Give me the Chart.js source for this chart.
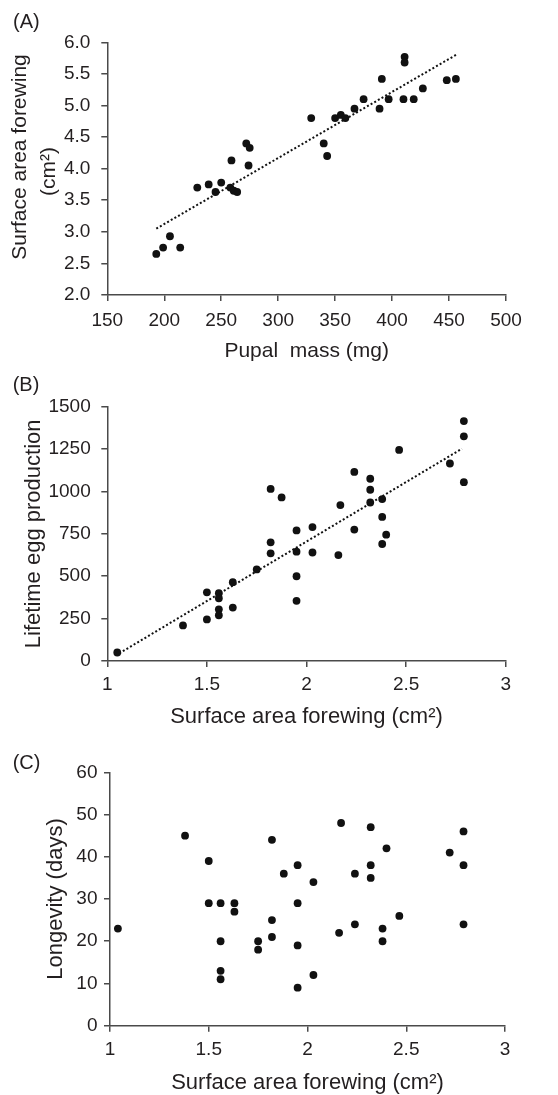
<!DOCTYPE html>
<html>
<head>
<meta charset="utf-8">
<script src="https://cdn.jsdelivr.net/npm/chart.js@4.4.1/dist/chart.umd.min.js"></script>
<style>
  html, body { margin: 0; padding: 0; background: #fff; }
  #wrap { position: relative; width: 558px; height: 1095px; }
  #wrap canvas { position: absolute; left: 0; top: 0; }
</style>
</head>
<body>
<div id="wrap">
  <canvas id="chartA" width="558" height="1095"></canvas>
  <canvas id="chartB" width="558" height="1095"></canvas>
  <canvas id="chartC" width="558" height="1095"></canvas>
</div>
<script>
// (A) pupal mass vs surface area
const aMass = [193, 199, 205, 214, 229, 239, 245, 250, 258, 259, 261, 264, 272, 274, 275, 329, 340, 343, 350, 355, 359, 367, 375, 389, 391, 397, 410, 411, 411, 419, 427, 448, 456];
const aArea = [2.65, 2.75, 2.93, 2.75, 3.70, 3.75, 3.63, 3.78, 3.70, 4.13, 3.65, 3.63, 4.40, 4.05, 4.33, 4.80, 4.40, 4.20, 4.80, 4.85, 4.80, 4.95, 5.10, 4.95, 5.42, 5.10, 5.10, 5.77, 5.68, 5.10, 5.27, 5.40, 5.42];
const aTrendX = [193, 457];
const aTrendY = [3.05, 5.81];
const aYTicks = ['2.0', '2.5', '3.0', '3.5', '4.0', '4.5', '5.0', '5.5', '6.0'];

// (B) surface area vs lifetime eggs
const bArea = [1.05, 1.38, 1.50, 1.50, 1.56, 1.56, 1.56, 1.56, 1.63, 1.63, 1.75, 1.82, 1.82, 1.82, 1.875, 1.95, 1.95, 1.95, 1.95, 2.03, 2.03, 2.16, 2.17, 2.24, 2.24, 2.32, 2.32, 2.32, 2.38, 2.38, 2.38, 2.40, 2.465, 2.72, 2.79, 2.79, 2.79];
const bEggs = [50, 210, 405, 245, 400, 370, 305, 270, 465, 315, 540, 1015, 700, 635, 965, 770, 645, 500, 355, 790, 640, 625, 920, 1115, 775, 1075, 1010, 935, 955, 850, 690, 745, 1245, 1165, 1415, 1325, 1055];
const bTrendX = [1.06, 2.78];
const bTrendY = [45, 1252];

// (C) surface area vs longevity
const cArea = [1.04, 1.38, 1.50, 1.50, 1.56, 1.56, 1.56, 1.56, 1.63, 1.63, 1.75, 1.75, 1.82, 1.82, 1.82, 1.88, 1.95, 1.95, 1.95, 1.95, 2.03, 2.03, 2.16, 2.17, 2.24, 2.24, 2.32, 2.32, 2.32, 2.38, 2.38, 2.40, 2.465, 2.72, 2.79, 2.79, 2.79];
const cDays = [23, 45, 39, 29, 29, 20, 13, 11, 29, 27, 20, 18, 44, 25, 21, 36, 38, 29, 19, 9, 34, 12, 22, 48, 36, 24, 47, 38, 35, 23, 20, 42, 26, 41, 46, 38, 24];

// shared x tick labels for B and C
const wingTicks = ['1', '1.5', '2', '2.5', '3'];

const textColor = '#231f20';
const axisColor = '#4a4a4a';
const dotColor = '#111';
const fontFamily = '"Liberation Sans", Arial, Helvetica, sans-serif';

Chart.defaults.font.family = fontFamily;
Chart.defaults.color = textColor;
Chart.defaults.animation = false;

const toPts = (xs, ys) => xs.map((x, i) => ({ x: x, y: ys[i] }));

const panelLabel = {
  id: 'panelLabel',
  afterDraw(chart, args, opts) {
    const ctx = chart.ctx;
    ctx.save();
    ctx.font = '20px ' + fontFamily;
    ctx.fillStyle = textColor;
    ctx.textBaseline = 'alphabetic';
    ctx.textAlign = 'left';
    ctx.fillText(opts.text, opts.x, opts.y);
    ctx.restore();
  }
};

function axisLook() {
  return {
    grid: { display: true, drawOnChartArea: false, drawTicks: true, tickLength: 6, color: axisColor, lineWidth: 1.5 },
    border: { display: true, color: axisColor, width: 1.5 }
  };
}

function makePanel(id, p) {
  const datasets = [{
    data: toPts(p.xs, p.ys),
    backgroundColor: dotColor,
    borderWidth: 0,
    pointRadius: 3.9,
    pointHoverRadius: 3.9
  }];
  if (p.trendX) {
    datasets.push({
      data: toPts(p.trendX, p.trendY),
      showLine: true,
      pointRadius: 0,
      borderColor: dotColor,
      borderWidth: 2,
      borderDash: [2, 2.2]
    });
  }
  const xh = p.xBottom - p.plot.bottom;
  return new Chart(document.getElementById(id), {
    type: 'scatter',
    data: { datasets },
    options: {
      responsive: false,
      events: [],
      layout: {
        padding: { left: 0, top: p.plot.top, right: 558 - p.plot.right, bottom: 1095 - p.xBottom }
      },
      plugins: {
        legend: { display: false },
        tooltip: { enabled: false },
        panelLabel: p.label
      },
      scales: {
        x: Object.assign(axisLook(), {
          type: 'linear',
          min: p.xMin, max: p.xMax,
          ticks: {
            stepSize: p.xStep, padding: p.xTickPad, font: { size: 19 }, color: textColor, maxRotation: 0,
            callback: p.xLabels ? (v, i) => p.xLabels[i] : undefined
          },
          title: { display: true, text: p.xTitle, font: { size: p.xTitleSize, lineHeight: p.xTitleLH }, color: textColor, padding: 0 },
          afterFit: s => { s.height = xh; }
        }),
        y: Object.assign(axisLook(), {
          type: 'linear',
          min: p.yMin, max: p.yMax,
          ticks: {
            stepSize: p.yStep, padding: p.yTickPad, font: { size: 19 }, color: textColor,
            callback: p.yLabels ? (v, i) => p.yLabels[i] : undefined
          },
          title: { display: true, text: p.yTitle, font: { size: p.yTitleSize, lineHeight: p.yTitleLH }, color: textColor, padding: { top: p.yTitlePad, bottom: 0 } },
          afterFit: s => { s.width = p.plot.left; }
        })
      }
    },
    plugins: [panelLabel]
  });
}

makePanel('chartA', {
  xs: aMass, ys: aArea, trendX: aTrendX, trendY: aTrendY,
  plot: { left: 107.3, right: 506, top: 42.3, bottom: 295 },
  xBottom: 363.6,
  xMin: 150, xMax: 500, xStep: 50, xTickPad: 8.5,
  yMin: 2, yMax: 6, yStep: 0.5, yTickPad: 11, yLabels: aYTicks,
  xTitle: 'Pupal  mass (mg)', xTitleSize: 21, xTitleLH: 1.2,
  yTitle: ['    Surface area forewing', '(cm²) '], yTitleSize: 21, yTitleLH: 1.4, yTitlePad: 5.3,
  label: { text: '(A)', x: 13, y: 27.6 }
});

makePanel('chartB', {
  xs: bArea, ys: bEggs, trendX: bTrendX, trendY: bTrendY,
  plot: { left: 107.3, right: 505.7, top: 406.7, bottom: 661 },
  xBottom: 730.2,
  xMin: 1, xMax: 3, xStep: 0.5, xTickPad: 6, xLabels: wingTicks,
  yMin: 0, yMax: 1500, yStep: 250, yTickPad: 10.6,
  xTitle: 'Surface area forewing (cm²)', xTitleSize: 22, xTitleLH: 1.2,
  yTitle: 'Lifetime egg production', yTitleSize: 22, yTitleLH: 1.2, yTitlePad: 20.3,
  label: { text: '(B)', x: 12.7, y: 391 }
});

makePanel('chartC', {
  xs: cArea, ys: cDays,
  plot: { left: 110, right: 505, top: 772.3, bottom: 1025.7 },
  xBottom: 1095,
  xMin: 1, xMax: 3, xStep: 0.5, xTickPad: 6.3, xLabels: wingTicks,
  yMin: 0, yMax: 60, yStep: 10, yTickPad: 6.5,
  xTitle: 'Surface area forewing (cm²)', xTitleSize: 22, xTitleLH: 1.1,
  yTitle: 'Longevity (days)', yTitleSize: 22, yTitleLH: 1.2, yTitlePad: 42.5,
  label: { text: '(C)', x: 12.7, y: 769.3 }
});
</script>
</body>
</html>
